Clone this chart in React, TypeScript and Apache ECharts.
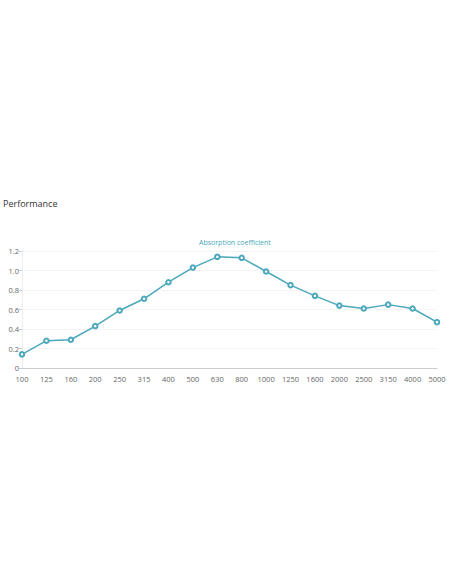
import React, { useEffect, useRef } from "react";
import * as echarts from "echarts";

const frequencies = ["100", "125", "160", "200", "250", "315", "400", "500", "630", "800", "1000", "1250", "1600", "2000", "2500", "3150", "4000", "5000"];
const absorption = [0.14, 0.28, 0.29, 0.43, 0.59, 0.71, 0.88, 1.03, 1.14, 1.13, 0.99, 0.85, 0.74, 0.64, 0.61, 0.65, 0.61, 0.47];
const seriesName = "Absorption coefficient";

const FONT = "'Open Sans', sans-serif";

const App: React.FC = () => {
  const chartRef = useRef<HTMLDivElement>(null);

  useEffect(() => {
    if (!chartRef.current) return;
    const chart = echarts.init(chartRef.current, undefined, { renderer: "svg" });

    chart.setOption({
      animation: false,
      title: {
        text: "Performance",
        left: 3,
        top: 199,
        padding: 0,
        textStyle: { fontSize: 9, fontWeight: "normal", color: "#333", fontFamily: FONT },
      },
      legend: {
        data: [seriesName],
        icon: "none",
        itemWidth: 0,
        itemGap: 0,
        left: 194,
        top: 235,
        padding: 0,
        textStyle: { fontSize: 7, color: "#4ba7bc", fontFamily: FONT },
      },
      grid: { left: 22, right: 15, top: 251, bottom: 216 },
      xAxis: {
        type: "category",
        data: frequencies,
        boundaryGap: false,
        axisLine: { lineStyle: { color: "#ccc" } },
        axisTick: { show: false },
        axisLabel: { fontSize: 7.5, color: "#666", margin: 7, fontFamily: FONT },
      },
      yAxis: {
        type: "value",
        min: 0,
        max: 1.2,
        interval: 0.2,
        axisLine: { show: true, lineStyle: { color: "#eee" } },
        axisTick: { show: true, length: 3, lineStyle: { color: "#ccc" } },
        axisLabel: {
          fontSize: 7.5,
          color: "#666",
          margin: 3,
          fontFamily: FONT,
          formatter: (v: number) => (v === 0 ? "0" : v.toFixed(1)),
        },
        splitLine: { lineStyle: { color: "#f3f3f3" } },
      },
      series: [
        {
          name: seriesName,
          type: "line",
          data: absorption,
          symbol: "emptyCircle",
          symbolSize: 4.5,
          lineStyle: { color: "#4ba7bc", width: 1.5 },
          itemStyle: { color: "#4ba7bc", borderWidth: 1.3 },
        },
      ],
    });

    return () => {
      chart.dispose();
    };
  }, []);

  return (
    <div
      ref={chartRef}
      style={{ position: "absolute", left: 0, top: 0, width: 452, height: 584 }}
    />
  );
};

export default App;
